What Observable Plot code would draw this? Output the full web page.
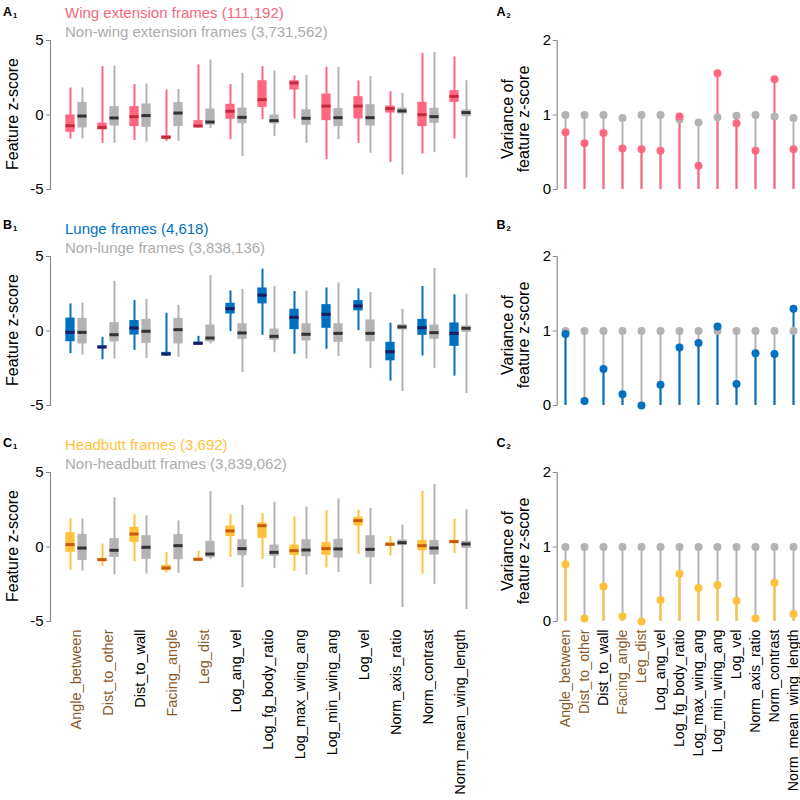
<!DOCTYPE html>
<html><head><meta charset="utf-8">
<script src="https://cdn.jsdelivr.net/npm/d3@7"></script>
<script src="https://cdn.jsdelivr.net/npm/@observablehq/plot@0.6"></script>
<style>
body{margin:0;background:#fff;font-family:"Liberation Sans",Arial,Helvetica,sans-serif}
#fig{position:relative;width:800px;height:800px;overflow:hidden;background:#fff}
.abs{position:absolute;white-space:nowrap}
sub{font-size:7.5px;line-height:0;vertical-align:baseline;position:relative;top:2px;margin-left:1px}
</style></head><body><div id="fig"></div><script>
// ---------- data ----------
const features = ["Angle_between","Dist_to_other","Dist_to_wall","Facing_angle","Leg_dist","Log_ang_vel","Log_fg_body_ratio","Log_max_wing_ang","Log_min_wing_ang","Log_vel","Norm_axis_ratio","Norm_contrast","Norm_mean_wing_length"];
const contextFeatures = ["Angle_between","Dist_to_other","Facing_angle","Leg_dist"];

// A1: wing extension vs non-wing extension (feature z-score box plots)
const wingLow  = [-1.61,-1.90,-1.72,-1.77,-0.86,-1.66,-0.31,-0.27,-3.00,-1.90,-3.18,-2.62,-1.61];
const wingQ1   = [-1.16,-1.00,-0.78,-1.61,-0.85,-0.29, 0.51, 1.68,-0.38,-0.27, 0.13,-0.78, 0.85];
const wingMed  = [-0.72,-0.83,-0.11,-1.50,-0.74, 0.25, 1.03, 2.15, 0.60, 0.60, 0.43, 0.02, 1.25];
const wingQ3   = [ 0.00,-0.54, 0.56,-1.39,-0.38, 0.72, 2.30, 2.30, 1.41, 1.23, 0.60, 0.85, 1.63];
const wingHigh = [ 1.81, 3.24, 2.04, 1.68, 3.36, 2.04, 3.24, 2.62, 3.20, 2.28, 1.57, 4.14, 3.90];
const nonWingLow  = [-1.60,-1.90,-1.83,-1.77,-0.90,-2.80,-1.45,-1.90,-1.66,-2.57,-4.03,-2.53,-4.23];
const nonWingQ1   = [-0.87,-0.74,-0.83,-0.78,-0.69,-0.58,-0.60,-0.69,-0.78,-0.74, 0.07,-0.56,-0.11];
const nonWingMed  = [-0.07,-0.20,-0.04, 0.13,-0.47,-0.16,-0.38,-0.22,-0.18,-0.18, 0.27,-0.11, 0.16];
const nonWingQ3   = [ 0.85, 0.56, 0.74, 0.83, 0.40, 0.47, 0.00, 0.36, 0.43, 0.69, 0.47, 0.45, 0.34];
const nonWingHigh = [ 1.81, 3.29, 2.08, 1.72, 3.69, 2.80, 2.95, 2.66, 3.20, 2.57, 1.45, 4.20, 2.30];

// B1: lunge vs non-lunge
const lungeLow  = [-1.52,-1.93,-1.30,-1.70,-0.92,-0.04,-0.29,-1.55,-1.23, 0.02,-3.36,-1.68,-3.03];
const lungeQ1   = [-0.72,-1.17,-0.27,-1.66,-0.92, 1.14, 1.82, 0.09, 0.18, 1.35,-2.00,-0.29,-1.03];
const lungeMed  = [-0.09,-1.08, 0.20,-1.55,-0.83, 1.50, 2.40, 0.92, 1.12, 1.68,-1.39, 0.22,-0.16];
const lungeQ3   = [ 0.87,-0.99, 0.70,-1.43,-0.74, 1.86, 2.89, 1.46, 1.77, 2.04,-0.76, 0.78, 0.54];
const lungeHigh = [ 1.82,-0.43, 2.04, 1.19,-0.36, 2.69, 4.15, 2.65, 2.89, 2.83, 0.52, 2.98, 2.42];
const nonLungeLow  = [-1.61,-1.88,-1.84,-1.77,-0.87,-2.78,-1.46,-1.88,-1.70,-2.53,-4.06,-2.51,-4.19];
const nonLungeQ1   = [-0.87,-0.74,-0.83,-0.87,-0.74,-0.56,-0.63,-0.67,-0.76,-0.72, 0.07,-0.56,-0.09];
const nonLungeMed  = [-0.09,-0.25,-0.02, 0.09,-0.47,-0.13,-0.36,-0.22,-0.16,-0.16, 0.27,-0.11, 0.18];
const nonLungeQ3   = [ 0.85, 0.56, 0.78, 0.85, 0.40, 0.49, 0.13, 0.49, 0.49, 0.74, 0.43, 0.40, 0.34];
const nonLungeHigh = [ 1.86, 3.34, 2.13, 1.73, 3.72, 2.80, 2.98, 2.69, 3.23, 2.58, 1.46, 4.19, 2.47];

// C1: headbutt vs non-headbutt
const headbuttLow  = [-1.55,-1.30,-0.99,-1.73,-0.94,-0.70,-0.83,-1.64,-1.41,-0.49,-0.60,-1.82,-0.43];
const headbuttQ1   = [-0.36,-0.96, 0.31,-1.59,-0.94, 0.70, 0.58,-0.58,-0.56, 1.41, 0.04,-0.25, 0.25];
const headbuttMed  = [ 0.16,-0.85, 0.87,-1.41,-0.83, 1.08, 1.43,-0.25,-0.11, 1.77, 0.18, 0.09, 0.36];
const headbuttQ3   = [ 0.96,-0.76, 1.32,-1.23,-0.74, 1.41, 1.61, 0.13, 0.29, 2.00, 0.29, 0.45, 0.45];
const headbuttHigh = [ 1.88, 0.20, 2.15,-0.38,-0.29, 2.17, 2.24, 2.02, 2.44, 2.47, 0.70, 3.74, 1.86];
const nonHeadbuttLow  = [-1.61,-1.86,-1.82,-1.77,-0.85,-2.74,-1.43,-1.88,-1.70,-2.53,-4.06,-2.51,-4.19];
const nonHeadbuttQ1   = [-0.90,-0.70,-0.83,-0.85,-0.72,-0.58,-0.63,-0.65,-0.74,-0.72, 0.09,-0.54,-0.09];
const nonHeadbuttMed  = [-0.07,-0.22,-0.02, 0.09,-0.47,-0.11,-0.36,-0.20,-0.13,-0.16, 0.29,-0.07, 0.20];
const nonHeadbuttQ3   = [ 0.85, 0.56, 0.76, 0.83, 0.38, 0.49, 0.13, 0.49, 0.52, 0.76, 0.47, 0.43, 0.38];
const nonHeadbuttHigh = [ 1.88, 3.30, 2.09, 1.75, 3.72, 2.80, 3.00, 2.69, 3.23, 2.60, 1.48, 4.19, 2.49];

// A2/B2/C2: variance of feature z-score
const wingVar        = [0.77,0.62,0.76,0.55,0.54,0.52,0.98,0.32,1.56,0.89,0.52,1.48,0.54];
const nonWingVar     = [1.00,1.00,1.00,0.96,1.00,1.00,0.94,0.90,0.97,0.99,1.00,0.98,0.96];
const lungeVar       = [0.96,0.06,0.49,0.15,0.00,0.28,0.78,0.84,1.06,0.29,0.70,0.69,1.30];
const nonLungeVar    = [1,1,1,1,1,1,1,1,1,1,1,1,1];
const headbuttVar    = [0.77,0.04,0.47,0.07,0.00,0.29,0.64,0.45,0.49,0.28,0.04,0.52,0.10];
const nonHeadbuttVar = [1,1,1,1,1,1,1,1,1,1,1,1,1];

const panelTitles = [
  ["Wing extension frames (111,192)", "Non-wing extension frames (3,731,562)"],
  ["Lunge frames (4,618)", "Non-lunge frames (3,838,136)"],
  ["Headbutt frames (3,692)", "Non-headbutt frames (3,839,062)"]
];
const panelLetters = ["A", "B", "C"];

// ---------- styling ----------
const FONT = "'Liberation Sans', Arial, Helvetica, sans-serif";
const AXIS = "#8a8a8a";
const GRAY = "#b3b3b3";
const GRAY_MED = "#333333";
const GRAY_TEXT = "#ababab";
const BROWN = "#8b5a2b";
const palettes = [
  {box: "#ff6680", med: "#c8283c", text: "#f4687e"},
  {box: "#0070c0", med: "#1b1a66", text: "#0070c0"},
  {box: "#ffc13b", med: "#c9590e", text: "#ffc13b"}
];

const fig = document.getElementById("fig");

function rowsOf(low, q1, med, q3, high) {
  return features.map((f, i) => ({feature: f, lo: low[i], q1: q1[i], med: med[i], q3: q3[i], hi: high[i]}));
}

function labelMarks(size) {
  return Plot.text(features, {
    x: d => d, frameAnchor: "bottom", rotate: -90, textAnchor: "end", lineAnchor: "middle",
    dy: 8, fontSize: size, fill: d => contextFeatures.includes(d) ? BROWN : "#000"
  });
}

function boxPlot(beh, non, pal, showLabels) {
  const h = showLabels ? 368 : 200;
  const inL = 5.375, inR = 17.375;
  return Plot.plot({
    width: 500, height: h,
    marginLeft: 50, marginRight: 18.65, marginTop: 40, marginBottom: h - 189,
    style: {fontFamily: FONT, background: "transparent", overflow: "visible"},
    x: {domain: features, padding: 0, insetLeft: 5.6, axis: null},
    y: {domain: [-5, 5]},
    marks: [
      Plot.frame({anchor: "left", stroke: AXIS, strokeWidth: 1.2}),
      Plot.axisY({ticks: [-5, 0, 5], tickSize: 4, tickPadding: 3, tickFormat: d => String(d), fontSize: 15, stroke: AXIS, color: "#000", label: null}),
      Plot.ruleX(beh, {x: "feature", y1: "lo", y2: "hi", stroke: pal.box, strokeWidth: 2, dx: -6}),
      Plot.ruleX(non, {x: "feature", y1: "lo", y2: "hi", stroke: GRAY, strokeWidth: 2, dx: 6}),
      Plot.barY(beh, {x: "feature", y1: "q1", y2: "q3", fill: pal.box, insetLeft: inL, insetRight: inR}),
      Plot.barY(non, {x: "feature", y1: "q1", y2: "q3", fill: GRAY, insetLeft: inR, insetRight: inL}),
      Plot.tickY(beh, {x: "feature", y: "med", stroke: pal.med, strokeWidth: 3, insetLeft: inL, insetRight: inR}),
      Plot.tickY(non, {x: "feature", y: "med", stroke: GRAY_MED, strokeWidth: 3, insetLeft: inR, insetRight: inL}),
      showLabels ? labelMarks(14.5) : null
    ]
  });
}

function varPlot(beh, non, pal, showLabels) {
  const h = showLabels ? 368 : 200;
  const rows = features.map((f, i) => ({feature: f, beh: beh[i], non: non[i]}));
  return Plot.plot({
    width: 300, height: h,
    marginLeft: 56.7, marginRight: 3, marginTop: 40, marginBottom: h - 189,
    style: {fontFamily: FONT, background: "transparent", overflow: "visible"},
    x: {domain: features, padding: 0, insetLeft: 5, axis: null},
    y: {domain: [0, 2]},
    marks: [
      Plot.frame({anchor: "left", stroke: AXIS, strokeWidth: 1.2}),
      Plot.axisY({ticks: [0, 1, 2], tickSize: 4, tickPadding: 2, tickFormat: d => String(d), fontSize: 15, stroke: AXIS, color: "#000", label: null}),
      Plot.ruleX(rows, {x: "feature", y1: 0, y2: "non", stroke: GRAY, strokeWidth: 2}),
      Plot.ruleX(rows, {x: "feature", y1: 0, y2: "beh", stroke: pal.box, strokeWidth: 2}),
      Plot.dot(rows, {x: "feature", y: "non", fill: GRAY, r: 4}),
      Plot.dot(rows, {x: "feature", y: "beh", fill: pal.box, r: 4}),
      showLabels ? labelMarks(14.2) : null
    ]
  });
}

function place(node, left, top) {
  node.style.position = "absolute";
  node.style.left = left + "px";
  node.style.top = top + "px";
  fig.appendChild(node);
}

function addDiv(html, left, top, style) {
  const d = document.createElement("div");
  d.className = "abs";
  d.innerHTML = html;
  d.style.left = left + "px";
  d.style.top = top + "px";
  Object.assign(d.style, style);
  fig.appendChild(d);
  return d;
}

function addRotated(html, cx, cy, style) {
  const d = addDiv(html, cx, cy, style);
  d.style.transform = "translate(-50%,-50%) rotate(-90deg)";
  d.style.textAlign = "center";
  return d;
}

const boxSets = [
  [rowsOf(wingLow, wingQ1, wingMed, wingQ3, wingHigh), rowsOf(nonWingLow, nonWingQ1, nonWingMed, nonWingQ3, nonWingHigh)],
  [rowsOf(lungeLow, lungeQ1, lungeMed, lungeQ3, lungeHigh), rowsOf(nonLungeLow, nonLungeQ1, nonLungeMed, nonLungeQ3, nonLungeHigh)],
  [rowsOf(headbuttLow, headbuttQ1, headbuttMed, headbuttQ3, headbuttHigh), rowsOf(nonHeadbuttLow, nonHeadbuttQ1, nonHeadbuttMed, nonHeadbuttQ3, nonHeadbuttHigh)]
];
const varSets = [[wingVar, nonWingVar], [lungeVar, nonLungeVar], [headbuttVar, nonHeadbuttVar]];
const letterTops = [6.1, 218.7, 437.4];

for (let p = 0; p < 3; p++) {
  const top = 216 * p;
  const last = p === 2;
  place(boxPlot(boxSets[p][0], boxSets[p][1], palettes[p], last), 0, top);
  place(varPlot(varSets[p][0], varSets[p][1], palettes[p], last), 500, top);

  // panel letters
  const lstyle = {fontSize: "12.5px", fontWeight: "bold", lineHeight: "12.5px", color: "#000"};
  addDiv(panelLetters[p] + "<sub>1</sub>", 3, letterTops[p], lstyle);
  addDiv(panelLetters[p] + "<sub>2</sub>", 496.5, letterTops[p], lstyle);

  // titles
  const tstyle = {fontSize: "15px", lineHeight: "19.3px"};
  addDiv(panelTitles[p][0], 65, top + 2.75, Object.assign({color: palettes[p].text}, tstyle));
  addDiv(panelTitles[p][1], 65, top + 22.05, Object.assign({color: GRAY_TEXT}, tstyle));

  // axis titles
  addRotated("Feature z-score", 12.8, top + 113.8, {fontSize: "16px", lineHeight: "16px", color: "#000"});
  addRotated("Variance of<br>feature z-score", 515.6, top + 118.5, {fontSize: "16px", lineHeight: "16.3px", color: "#000"});
}
</script></body></html>
